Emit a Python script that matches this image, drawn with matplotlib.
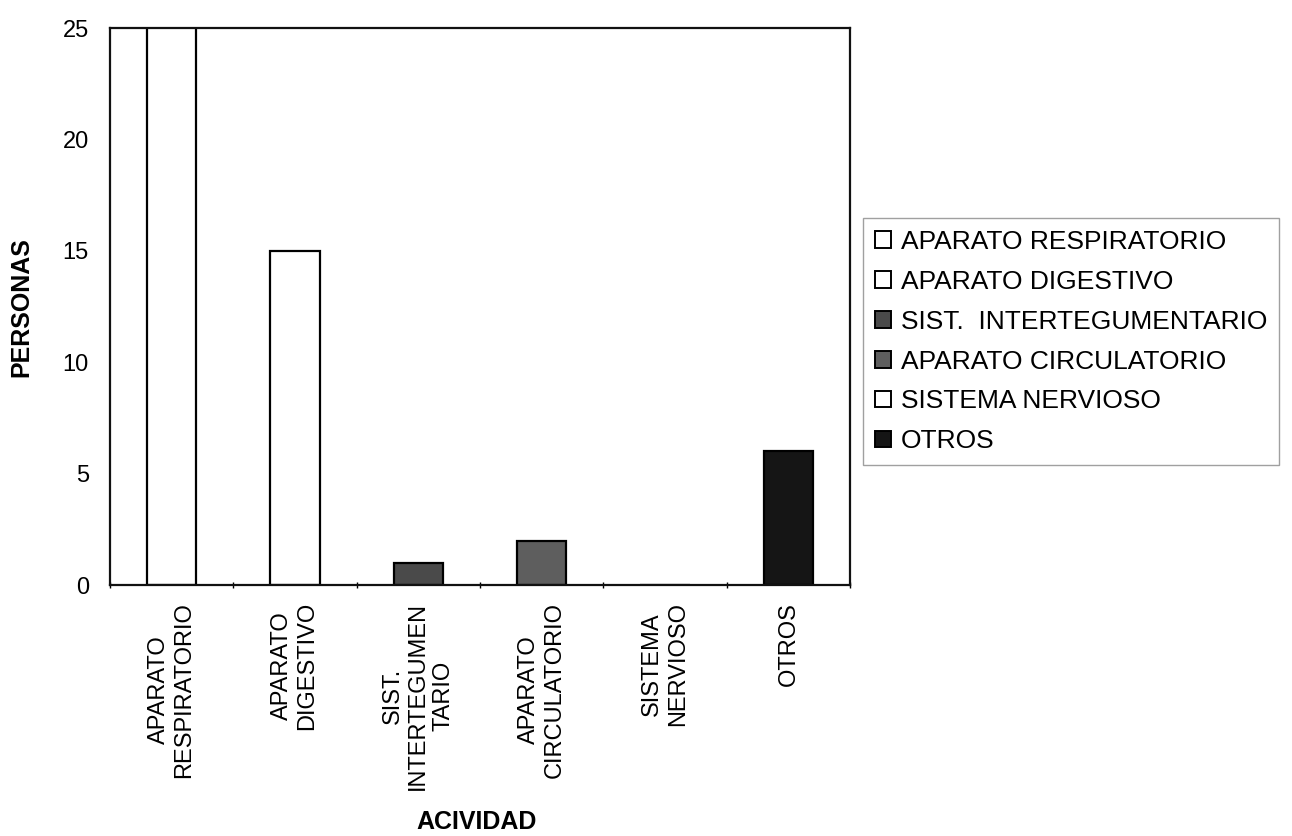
import matplotlib
matplotlib.use("Agg")
import matplotlib.pyplot as plt
from matplotlib.patches import Patch
import numpy as np

plt.rcParams['font.family'] = ['Liberation Sans', 'DejaVu Sans']

categorias = ["APARATO RESPIRATORIO", "APARATO DIGESTIVO", "SIST.  INTERTEGUMENTARIO",
              "APARATO CIRCULATORIO", "SISTEMA NERVIOSO", "OTROS"]
etiquetas = ["APARATO\nRESPIRATORIO", "APARATO\nDIGESTIVO", "SIST.\nINTERTEGUMEN\nTARIO",
             "APARATO\nCIRCULATORIO", "SISTEMA\nNERVIOSO", "OTROS"]
personas = [28, 15, 1, 2, 0, 6]
colores = ["white", "white", "#4a4a4a", "#5e5e5e", "white", "#151515"]

fig = plt.figure(figsize=(12.92, 8.36), dpi=100)
ax = fig.add_axes([0.085, 0.30, 0.573, 0.6665])

x = np.arange(len(categorias))
ax.bar(x, personas, width=0.4, color=colores, edgecolor="black", linewidth=1.6)

ax.set_xlim(-0.5, len(categorias) - 0.5)
ax.set_ylim(0, 25)
ax.set_yticks([0, 5, 10, 15, 20, 25])
ax.tick_params(axis="y", labelsize=17, length=0, pad=15)
ax.set_xticks(x)
ax.set_xticklabels(etiquetas, rotation=90, fontsize=17)
ax.tick_params(axis="x", length=0, pad=12)
ax.set_xticks(np.arange(len(categorias) + 1) - 0.5, minor=True)
ax.tick_params(axis="x", which="minor", length=5, direction="inout", width=1)
for s in ax.spines.values():
    s.set_linewidth(1.6)
    s.set_color("#111111")

ax.set_ylabel("PERSONAS", fontsize=18, fontweight="bold")
ax.set_xlabel("ACIVIDAD", fontsize=18, fontweight="bold")
ax.yaxis.set_label_coords(-0.103, 0.5)
ax.xaxis.set_label_coords(0.495, -0.404)

handles = [Patch(facecolor=c, edgecolor="black", linewidth=1.4) for c in colores]
leg = fig.legend(handles, categorias, loc="upper left", bbox_to_anchor=(0.668, 0.739),
                 fontsize=19, frameon=True, fancybox=False, handlelength=0.6,
                 handleheight=0.6, handletextpad=0.38, labelspacing=0.6,
                 borderpad=0.45, borderaxespad=0)
leg.get_frame().set_edgecolor("#888888")
leg.get_frame().set_linewidth(1.0)

fig.savefig("out.png", dpi=100)
